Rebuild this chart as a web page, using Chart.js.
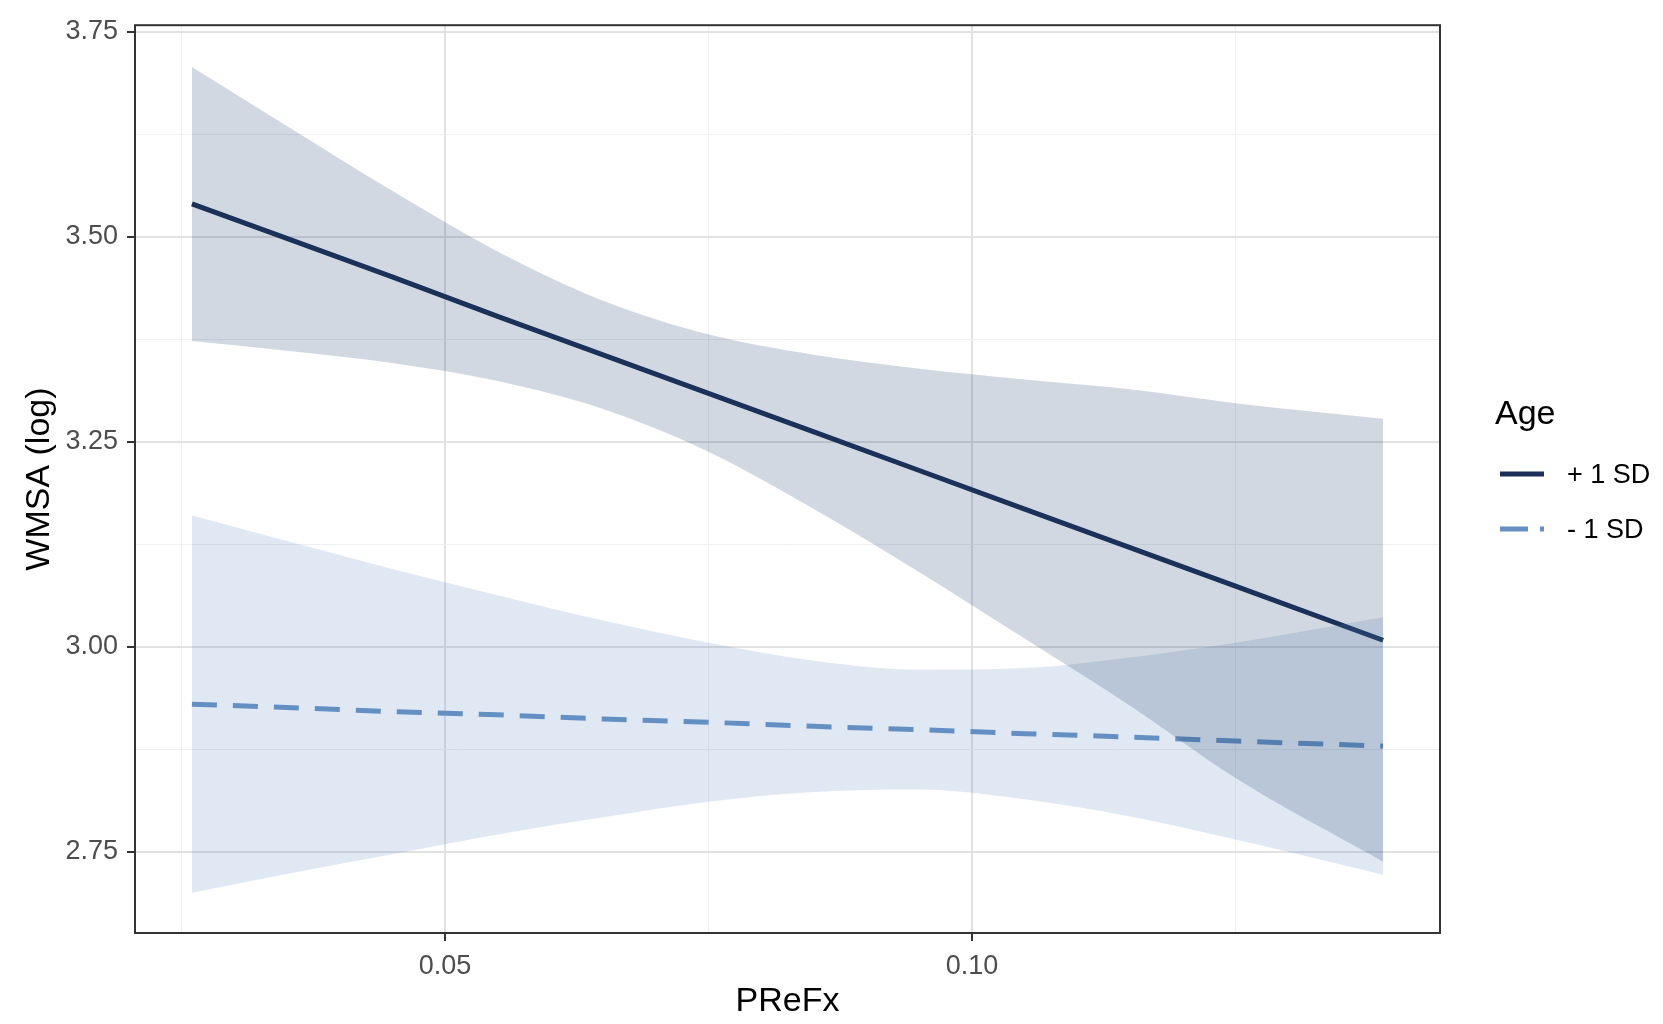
<!DOCTYPE html>
<html>
<head>
<meta charset="utf-8">
<script src="https://cdn.jsdelivr.net/npm/chart.js@4.4.0/dist/chart.umd.min.js"></script>
<style>
  html, body { margin: 0; padding: 0; background: #fff; }
  #wrap { position: relative; width: 1663px; height: 1024px; }
  #wrap canvas { position: absolute; left: 0; top: 0; }
  .lg { position: absolute; font-family: "Liberation Sans", Arial, sans-serif; color: #000; white-space: nowrap; }
  .lg-title { left: 1495px; top: 392px; font-size: 34px; line-height: 40px; }
  .lg-text { left: 1567px; font-size: 27px; line-height: 30px; }
  .lg-key { position: absolute; left: 1498px; }
</style>
</head>
<body>
<div id="wrap">
  <canvas id="chart" width="1663" height="1024"></canvas>
  <div class="lg lg-title">Age</div>
  <svg class="lg-key" style="top:464px" width="50" height="20"><line x1="2" y1="10" x2="46" y2="10" stroke="#1b2f57" stroke-width="5"/></svg>
  <div class="lg lg-text" style="top:459px">+ 1 SD</div>
  <svg class="lg-key" style="top:519px" width="50" height="20"><line x1="2" y1="10" x2="46" y2="10" stroke="#6690c4" stroke-width="5" stroke-dasharray="28 12"/></svg>
  <div class="lg lg-text" style="top:514px">- 1 SD</div>
</div>
<script>
const prefx = [0.026, 0.035, 0.045, 0.055, 0.065, 0.075, 0.085, 0.095, 0.105, 0.115, 0.125, 0.139];

// Age + 1 SD
const plusMean  = [3.540, 3.498, 3.451, 3.403, 3.356, 3.309, 3.262, 3.215, 3.168, 3.121, 3.074, 3.008];
const plusUpper = [3.707, 3.635, 3.556, 3.482, 3.422, 3.381, 3.356, 3.339, 3.326, 3.314, 3.297, 3.278];
const plusLower = [3.373, 3.361, 3.346, 3.324, 3.290, 3.238, 3.168, 3.091, 3.010, 2.928, 2.840, 2.738];

// Age - 1 SD
const minusMean  = [2.930, 2.926, 2.921, 2.917, 2.912, 2.908, 2.903, 2.899, 2.894, 2.890, 2.885, 2.879];
const minusUpper = [3.160, 3.129, 3.095, 3.063, 3.032, 3.005, 2.983, 2.972, 2.974, 2.987, 3.005, 3.036];
const minusLower = [2.700, 2.723, 2.747, 2.771, 2.792, 2.811, 2.823, 2.826, 2.814, 2.793, 2.765, 2.722];

// axis ticks
const yTicks = [2.75, 3.00, 3.25, 3.50, 3.75];
const yMinor = [2.875, 3.125, 3.375, 3.625];
const xTicks = [0.05, 0.10];
const xMinor = [0.025, 0.075, 0.125];

const pts = (ys) => ys.map((y, i) => ({ x: prefx[i], y: y }));

const tickFont = { family: "Liberation Sans, Arial, sans-serif", size: 27 };
const titleFont = { family: "Liberation Sans, Arial, sans-serif", size: 34 };

const isMinor = (list, v) => list.some(m => Math.abs(m - v) < 1e-9);

// grey panel border like theme_bw
const panelBorder = {
  id: "panelBorder",
  afterDatasetsDraw(chart) {
    const { ctx, chartArea: a } = chart;
    ctx.save();
    ctx.strokeStyle = "#333333";
    ctx.lineWidth = 2;
    ctx.strokeRect(a.left, a.top, a.right - a.left, a.bottom - a.top);
    ctx.restore();
  }
};

const band = (data, fill, color) => ({
  data: pts(data),
  borderWidth: 0,
  pointRadius: 0,
  fill: fill,
  backgroundColor: color,
  cubicInterpolationMode: "monotone"
});

new Chart(document.getElementById("chart"), {
  type: "line",
  data: {
    datasets: [
      band(plusLower, false, "transparent"),
      band(plusUpper, "-1", "rgba(25, 60, 105, 0.2)"),
      band(minusLower, false, "transparent"),
      band(minusUpper, "-1", "rgba(95, 140, 195, 0.2)"),
      {
        label: "+ 1 SD",
        data: pts(plusMean),
        borderColor: "#1b2f57",
        borderWidth: 5,
        pointRadius: 0,
        fill: false
      },
      {
        label: "- 1 SD",
        data: pts(minusMean),
        borderColor: "#6690c4",
        borderWidth: 5,
        borderDash: [25, 16],
        pointRadius: 0,
        fill: false
      }
    ]
  },
  options: {
    responsive: false,
    devicePixelRatio: 1,
    animation: false,
    layout: { padding: { top: 16, right: 223, left: 0, bottom: 0 } },
    plugins: {
      legend: { display: false },
      tooltip: { enabled: false }
    },
    scales: {
      x: {
        type: "linear",
        min: 0.0206,
        max: 0.1444,
        afterBuildTicks: (scale) => {
          scale.ticks = xMinor.concat(xTicks).sort((a, b) => a - b).map(v => ({ value: v }));
        },
        afterFit: (scale) => { scale.height = 91; },
        ticks: {
          autoSkip: false,
          maxRotation: 0,
          padding: 9,
          color: "#4d4d4d",
          font: tickFont,
          callback: (v) => isMinor(xMinor, v) ? "" : v.toFixed(2)
        },
        grid: {
          color: (c) => c.tick && isMinor(xMinor, c.tick.value) ? "#efefef" : "#e2e2e2",
          lineWidth: (c) => c.tick && isMinor(xMinor, c.tick.value) ? 1 : 2,
          tickColor: (c) => c.tick && isMinor(xMinor, c.tick.value) ? "rgba(0,0,0,0)" : "#333333",
          tickLength: 8,
          tickWidth: 2
        },
        border: { display: false },
        title: {
          display: true,
          text: "PReFx",
          color: "#000",
          font: titleFont,
          padding: { top: 0, bottom: 2 }
        }
      },
      y: {
        min: 2.651,
        max: 3.758,
        afterBuildTicks: (scale) => {
          scale.ticks = yMinor.concat(yTicks).sort((a, b) => a - b).map(v => ({ value: v }));
        },
        afterFit: (scale) => { scale.width = 135; },
        ticks: {
          autoSkip: false,
          padding: 9,
          color: "#4d4d4d",
          font: tickFont,
          callback: (v) => isMinor(yMinor, v) ? "" : v.toFixed(2)
        },
        grid: {
          color: (c) => c.tick && isMinor(yMinor, c.tick.value) ? "#efefef" : "#e2e2e2",
          lineWidth: (c) => c.tick && isMinor(yMinor, c.tick.value) ? 1 : 2,
          tickColor: (c) => c.tick && isMinor(yMinor, c.tick.value) ? "rgba(0,0,0,0)" : "#333333",
          tickLength: 8,
          tickWidth: 2
        },
        border: { display: false },
        title: {
          display: true,
          text: "WMSA (log)",
          color: "#000",
          font: titleFont,
          padding: { top: 19, bottom: 0 }
        }
      }
    }
  },
  plugins: [panelBorder]
});
</script>
</body>
</html>
